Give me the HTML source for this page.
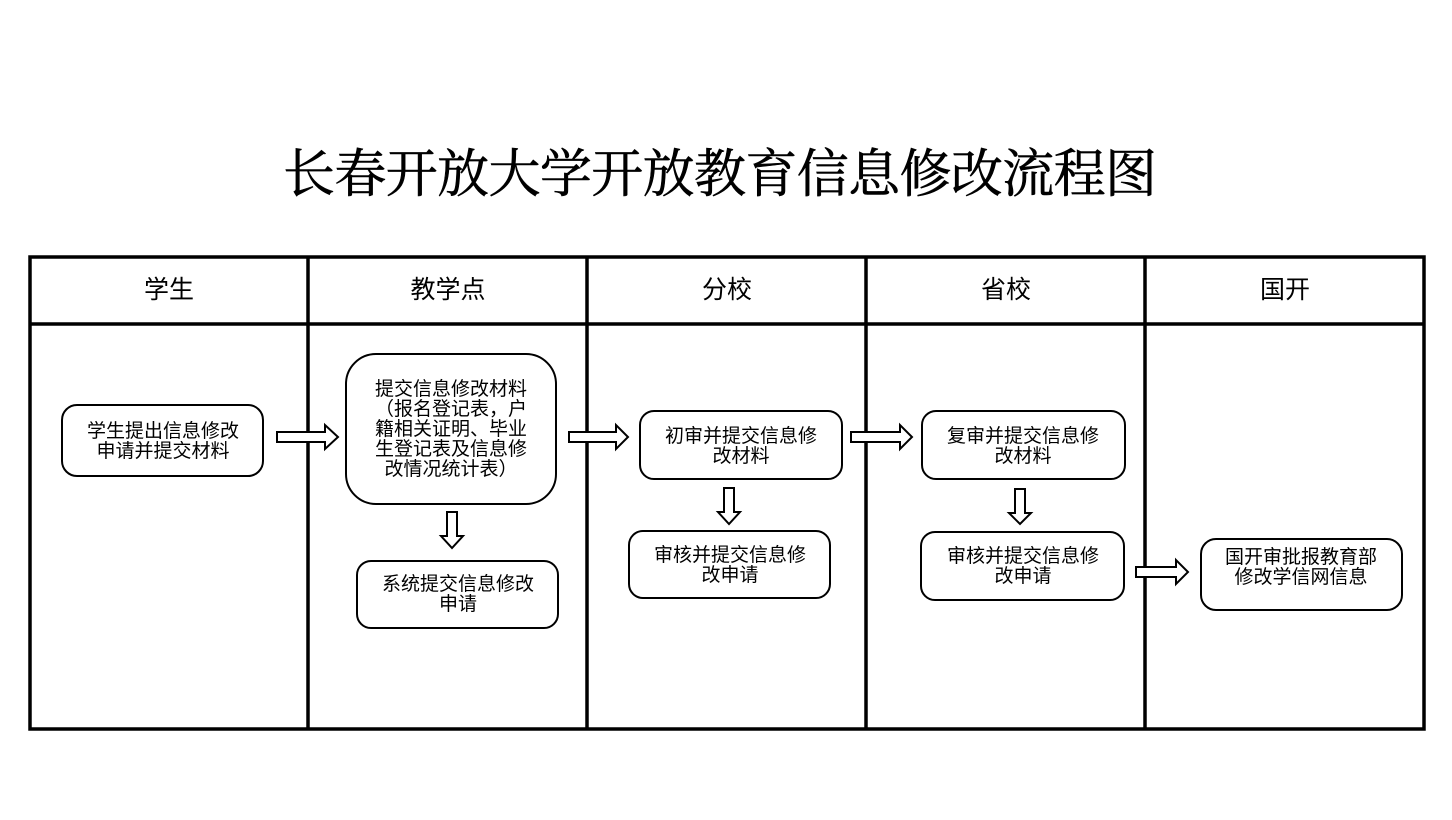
<!DOCTYPE html>
<html><head><meta charset="utf-8"><style>
html,body{margin:0;padding:0;background:#fff;}
svg{display:block;}
text{font-family:"Liberation Sans","Noto Sans CJK SC",sans-serif;fill:#000;}
.t{font-family:"Liberation Serif","Noto Serif CJK SC",serif;}
</style></head><body>
<svg width="1452" height="820" viewBox="0 0 1452 820" xmlns="http://www.w3.org/2000/svg">
<rect width="1452" height="820" fill="#fff"/>
<text class="t" x="283" y="192" font-size="52" textLength="874" lengthAdjust="spacing" stroke="#000" stroke-width="0.6">长春开放大学开放教育信息修改流程图</text>
<g stroke="#000" stroke-width="3.5" fill="none">
<rect x="30" y="257" width="1394" height="472"/>
<line x1="30" y1="324" x2="1424" y2="324"/>
<line x1="308" y1="257" x2="308" y2="729"/>
<line x1="587" y1="257" x2="587" y2="729"/>
<line x1="866" y1="257" x2="866" y2="729"/>
<line x1="1145" y1="257" x2="1145" y2="729"/>
</g>
<g font-size="25" text-anchor="middle">
<text x="169" y="298">学生</text>
<text x="448" y="298">教学点</text>
<text x="727" y="298">分校</text>
<text x="1006" y="298">省校</text>
<text x="1285" y="298">国开</text>
</g>
<g stroke="#000" stroke-width="2" fill="#fff">
<rect x="62" y="405" width="201" height="71" rx="15"/>
<rect x="346" y="354" width="210" height="150" rx="30"/>
<rect x="357" y="561" width="201" height="67" rx="14"/>
<rect x="640" y="411" width="202" height="68" rx="14"/>
<rect x="629" y="531" width="201" height="67" rx="14"/>
<rect x="922" y="411" width="203" height="68" rx="14"/>
<rect x="921" y="532" width="203" height="68" rx="14"/>
<rect x="1201" y="539" width="201" height="71" rx="15"/>
</g>
<g font-size="19" text-anchor="middle">
<text x="163" y="437">学生提出信息修改</text>
<text x="163" y="457">申请并提交材料</text>
<text x="451" y="395">提交信息修改材料</text>
<text x="451" y="415">（报名登记表，户</text>
<text x="451" y="435">籍相关证明、毕业</text>
<text x="451" y="455">生登记表及信息修</text>
<text x="451" y="475">改情况统计表）</text>
<text x="458" y="590">系统提交信息修改</text>
<text x="458" y="610">申请</text>
<text x="741" y="442">初审并提交信息修</text>
<text x="741" y="462">改材料</text>
<text x="730" y="561">审核并提交信息修</text>
<text x="730" y="581">改申请</text>
<text x="1023" y="442">复审并提交信息修</text>
<text x="1023" y="462">改材料</text>
<text x="1023" y="562">审核并提交信息修</text>
<text x="1023" y="582">改申请</text>
<text x="1301" y="563">国开审批报教育部</text>
<text x="1301" y="583">修改学信网信息</text>
</g>
<g stroke="#000" stroke-width="2" fill="#fff">
<path d="M277 432 H325 V425 L338 437 L325 449 V442 H277 Z"/>
<path d="M569 432 H616 V425 L628 437 L616 449 V442 H569 Z"/>
<path d="M851 432 H900 V425 L912 437 L900 449 V442 H851 Z"/>
<path d="M1136 567 H1176 V560 L1188 572 L1176 584 V577 H1136 Z"/>
<path d="M447 512 V536 H441 L452 548 L463 536 H457 V512 Z"/>
<path d="M724 488 V512 H718 L729 524 L740 512 H734 V488 Z"/>
<path d="M1015 489 V513 H1009 L1020 524 L1031 513 H1025 V489 Z"/>
</g>
</svg>
</body></html>
